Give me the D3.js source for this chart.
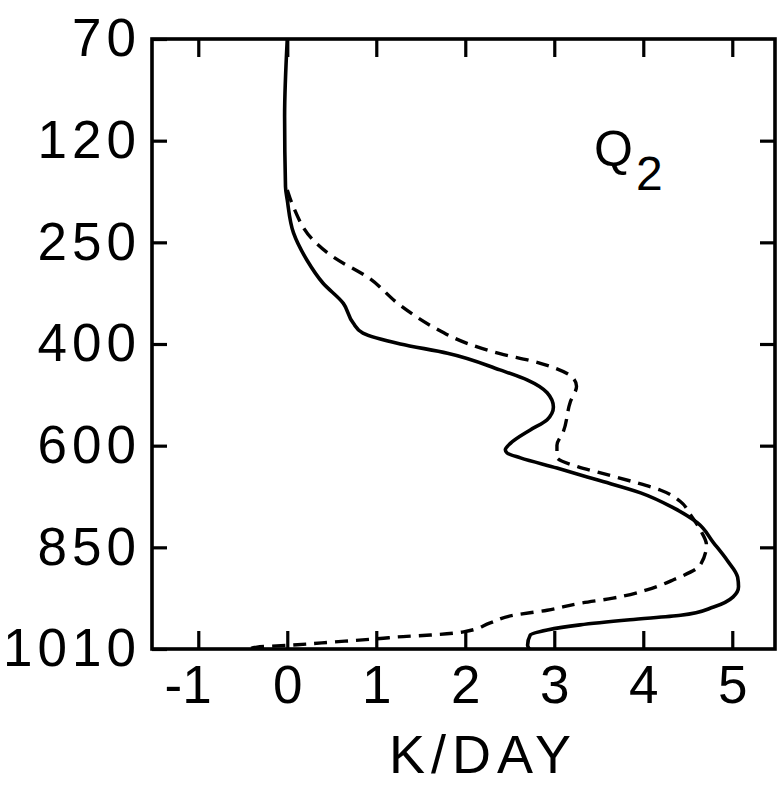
<!DOCTYPE html>
<html>
<head>
<meta charset="utf-8">
<script src="https://cdn.jsdelivr.net/npm/d3@7/dist/d3.min.js"></script>
<style>
  html, body { margin: 0; padding: 0; background: #fff; }
  svg { display: block; }
  text { font-family: "Liberation Sans", Arial, sans-serif; fill: #000; }
</style>
</head>
<body>
<svg id="chart" width="780" height="785"></svg>
<script>
// Pressure levels (hPa) shown on the vertical axis, equally spaced
const pressureLevels = [70, 120, 250, 400, 600, 850, 1010];
// Heating-rate ticks (K/day)
const rateTicks = [-1, 0, 1, 2, 3, 4, 5];

// Solid profile: pressure (hPa) and Q2 (K/day)
const solidLevels = [70, 108, 179, 196, 238, 276, 310, 340, 369, 384, 400, 418, 451, 471, 496, 524, 549, 569, 595, 610, 618, 630, 655, 684, 716, 753, 790, 839, 870, 897, 912, 928, 944, 957, 964, 972, 980, 988, 1004, 1010];
const solidValues = [0.0, -0.03, -0.02, 0.0, 0.07, 0.22, 0.40, 0.63, 0.74, 0.85, 1.27, 1.80, 2.39, 2.70, 2.92, 2.99, 2.92, 2.73, 2.51, 2.45, 2.47, 2.62, 3.03, 3.48, 3.97, 4.34, 4.61, 4.79, 4.94, 5.06, 5.07, 5.01, 4.79, 4.42, 3.85, 3.29, 2.92, 2.73, 2.70, 2.72];

// Dashed profile: pressure (hPa) and Q2 (K/day)
const dashedLevels = [183, 205, 247, 272, 301, 343, 375, 399, 419, 434, 449, 465, 483, 514, 573, 599, 628, 652, 667, 689, 709, 738, 770, 807, 844, 878, 901, 917, 930, 938, 949, 957, 969, 983, 988, 991, 993, 999, 1004, 1007, 1010];
const dashedValues = [0.0, 0.07, 0.29, 0.52, 0.90, 1.27, 1.64, 2.02, 2.39, 2.76, 3.03, 3.20, 3.25, 3.18, 3.10, 3.03, 3.03, 3.27, 3.52, 3.89, 4.19, 4.42, 4.53, 4.64, 4.71, 4.64, 4.34, 4.04, 3.66, 3.29, 2.92, 2.54, 2.28, 1.98, 1.61, 1.24, 1.08, 0.52, 0.03, -0.34, -0.42];

const svg = d3.select("#chart");
const plotLeft = 152, plotRight = 775, plotTop = 39, plotBottom = 649;

const x = d3.scaleLinear().domain([-1.52, 5.48]).range([plotLeft, plotRight]);
const y = d3.scaleLinear()
  .domain(pressureLevels)
  .range(pressureLevels.map((d, i) => plotTop + i * (plotBottom - plotTop) / (pressureLevels.length - 1)));

const plot = svg.append("g");

// Profiles
const line = d3.line()
  .x(d => x(d[1]))
  .y(d => y(d[0]))
  .curve(d3.curveMonotoneY);

plot.append("path")
  .datum(d3.zip(dashedLevels, dashedValues))
  .attr("d", line)
  .attr("fill", "none")
  .attr("stroke", "#000")
  .attr("stroke-width", 3.4)
  .attr("stroke-dasharray", "13,8")
  .attr("stroke-linecap", "butt");

plot.append("path")
  .datum(d3.zip(solidLevels, solidValues))
  .attr("d", line)
  .attr("fill", "none")
  .attr("stroke", "#000")
  .attr("stroke-width", 3.6)
  .attr("stroke-linejoin", "round");

// Axes with inward ticks
const styleAxis = g => {
  g.select(".domain").remove();
  g.selectAll(".tick line").attr("stroke", "#000").attr("stroke-width", 3.2);
};

svg.append("g")
  .attr("transform", `translate(${plotLeft},0)`)
  .call(d3.axisLeft(y).tickValues(pressureLevels).tickFormat(d3.format("d"))
    .tickSizeInner(-15).tickSizeOuter(0).tickPadding(11))
  .call(styleAxis)
  .call(g => g.selectAll(".tick text")
    .attr("font-size", 53)
    .attr("letter-spacing", 5)
    .attr("font-family", "'Liberation Sans', Arial, sans-serif"));

svg.append("g")
  .attr("transform", `translate(${plotRight},0)`)
  .call(d3.axisRight(y).tickValues(pressureLevels.slice(1, -1)).tickSizeInner(-15).tickSizeOuter(0).tickFormat(""))
  .call(styleAxis);

svg.append("g")
  .attr("transform", `translate(0,${plotTop})`)
  .call(d3.axisTop(x).tickValues(rateTicks).tickSizeInner(-18).tickSizeOuter(0).tickFormat(""))
  .call(styleAxis);

svg.append("g")
  .attr("transform", `translate(0,${plotBottom})`)
  .call(d3.axisBottom(x).tickValues(rateTicks).tickSizeInner(-18).tickSizeOuter(0).tickPadding(16)
    .tickFormat(d => d < 0 ? "-" + Math.abs(d) : String(d)))
  .call(styleAxis)
  .call(g => g.selectAll(".tick text")
    .attr("font-size", 53)
    .attr("font-family", "'Liberation Sans', Arial, sans-serif")
    .attr("dx", d => d < 0 ? "-0.2em" : 0));

// Frame
svg.append("rect")
  .attr("x", plotLeft).attr("y", plotTop)
  .attr("width", plotRight - plotLeft).attr("height", plotBottom - plotTop)
  .attr("fill", "none")
  .attr("stroke", "#000")
  .attr("stroke-width", 3.6);

// Axis title
svg.append("text")
  .attr("x", 483)
  .attr("y", 773)
  .attr("text-anchor", "middle")
  .attr("font-size", 54)
  .attr("letter-spacing", 6)
  .text("K/DAY");

// Panel label
const label = svg.append("text")
  .attr("x", 594)
  .attr("y", 166)
  .attr("font-size", 50);
label.append("tspan").text("Q");
label.append("tspan").attr("dy", 24).attr("dx", 3).attr("font-size", 48).text("2");
</script>
</body>
</html>
